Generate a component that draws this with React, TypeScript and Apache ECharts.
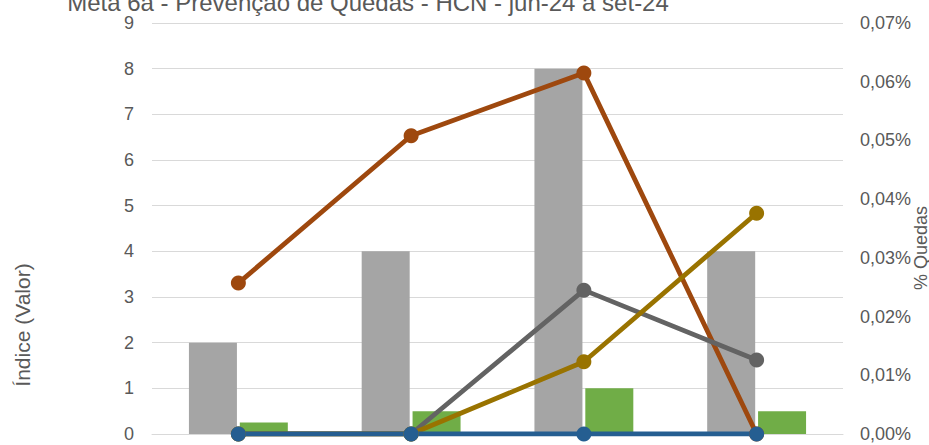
import React, { useEffect, useRef } from "react";
import * as echarts from "echarts";

const categories = ["jun-24", "jul-24", "ago-24", "set-24"];
const indiceQuedas = [2, 4, 8, 4];
const indiceQuedasDano = [0.25, 0.5, 1, 0.5];
const pctQuedas = [0.0257, 0.0508, 0.0615, 0];
const pctQuedasDanoLeve = [0, 0, 0.0245, 0.0126];
const pctQuedasDanoModerado = [0, 0, 0.0123, 0.0376];
const pctQuedasDanoGrave = [0, 0, 0, 0];
const leftTicks = { min: 0, max: 9, interval: 1 };
const rightTicks = { min: 0, max: 0.07, interval: 0.01 };

const FONT = "'Liberation Sans', Arial, sans-serif";
const TXT = "#595959";

export default function App() {
  const ref = useRef<HTMLDivElement>(null);
  useEffect(() => {
    if (!ref.current) return;
    const chart = echarts.init(ref.current, null, { renderer: "svg" });
    const lineSeries = (name: string, data: number[], color: string) => ({
      name,
      type: "line",
      yAxisIndex: 1,
      data,
      symbol: "circle",
      symbolSize: 15,
      lineStyle: { color, width: 4.8 },
      itemStyle: { color },
    });
    chart.setOption({
      animation: false,
      textStyle: { fontFamily: FONT },
      grid: { left: 152, right: 86, top: 23, bottom: 11 },
      xAxis: {
        type: "category",
        data: categories,
        axisLine: { show: true, lineStyle: { color: "#D9D9D9" } },
        axisTick: { show: false },
        axisLabel: { show: false },
      },
      yAxis: [
        {
          type: "value",
          ...leftTicks,
          axisLine: { show: false },
          axisTick: { show: false },
          splitLine: { lineStyle: { color: "#D9D9D9", width: 1 } },
          axisLabel: { color: TXT, fontSize: 18, margin: 18, fontFamily: FONT },
        },
        {
          type: "value",
          ...rightTicks,
          axisLine: { show: false },
          axisTick: { show: false },
          splitLine: { show: false },
          axisLabel: {
            color: TXT,
            fontSize: 18,
            margin: 17,
            fontFamily: FONT,
            formatter: (v: number) => v.toFixed(2).replace(".", ",") + "%",
          },
        },
      ],
      series: [
        {
          name: "Índice de Quedas",
          type: "bar",
          data: indiceQuedas,
          barWidth: 48,
          barGap: "6%",
          itemStyle: { color: "#A5A5A5" },
        },
        {
          name: "Índice de Quedas com Dano",
          type: "bar",
          data: indiceQuedasDano,
          barWidth: 48,
          itemStyle: { color: "#70AD47" },
        },
        lineSeries("% Quedas", pctQuedas, "#9E480E"),
        lineSeries("% Quedas com Dano Leve", pctQuedasDanoLeve, "#636363"),
        lineSeries("% Quedas com Dano Moderado", pctQuedasDanoModerado, "#997300"),
        lineSeries("% Quedas com Dano Grave", pctQuedasDanoGrave, "#255E91"),
      ],
      graphic: [
        {
          type: "text",
          x: 368,
          y: 2.6,
          style: {
            text: "Meta 6a - Prevenção de Quedas - HCN - jun-24 a set-24",
            fill: TXT,
            font: `24px ${FONT}`,
            align: "center",
            verticalAlign: "middle",
          },
        },
        {
          type: "text",
          x: 22,
          y: 325,
          rotation: Math.PI / 2,
          style: {
            text: "Índice (Valor)",
            fill: TXT,
            font: `21px ${FONT}`,
            align: "center",
            verticalAlign: "middle",
          },
        },
        {
          type: "text",
          x: 921,
          y: 248,
          rotation: Math.PI / 2,
          style: {
            text: "% Quedas",
            fill: TXT,
            font: `18px ${FONT}`,
            align: "center",
            verticalAlign: "middle",
          },
        },
      ],
    });
    return () => chart.dispose();
  }, []);
  return <div ref={ref} style={{ width: 929, height: 445, position: "absolute", left: 0, top: 0 }} />;
}
